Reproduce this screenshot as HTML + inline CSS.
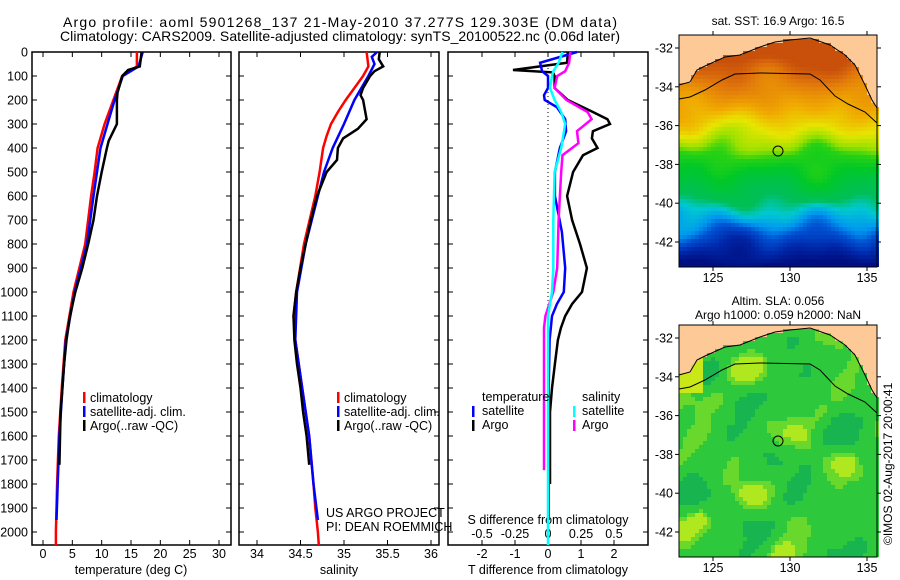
<!DOCTYPE html>
<html><head><meta charset="utf-8"><style>
html,body{margin:0;padding:0;background:#fff;}
svg{display:block;font-family:"Liberation Sans",sans-serif;}
</style></head><body>
<svg id="fig" width="900" height="580" viewBox="0 0 900 580" xmlns="http://www.w3.org/2000/svg">
<text x="63" y="27" font-size="14" textLength="554">Argo profile: aoml 5901268_137 21-May-2010 37.277S 129.303E (DM data)</text>
<text x="60" y="41" font-size="14" textLength="560">Climatology: CARS2009. Satellite-adjusted climatology: synTS_20100522.nc (0.06d later)</text>
<g id="plots"></g>
<g id="maps"></g>
<text transform="translate(892,545) rotate(-90)" font-size="12">©IMOS 02-Aug-2017 20:00:41</text>
</svg>
<script>
// ---------- data ----------
const depthTicks=[0,100,200,300,400,500,600,700,800,900,1000,1100,1200,1300,1400,1500,1600,1700,1800,1900,2000];
const tempTicks=[0,5,10,15,20,25,30];
const salTicks=[34,34.5,35,35.5,36];
const salTickLabels=["34","34.5","35","35.5","36"];
const tdiffTicks=[-2,-1,0,1,2];
const sdiffTicks=[-0.5,-0.25,0,0.25,0.5];
const sdiffTickLabels=["-0.5","-0.25","0","0.25","0.5"];
// temperature profiles [depth, T]
const tempClimDepth=[0,60,90,100,200,300,400,500,600,800,1000,1200,1400,1600,1800,2000,2054];
const tempClimVal=[16.0,16.0,14.0,13.5,12.0,10.5,9.3,8.8,8.2,7.2,5.2,3.8,3.2,2.7,2.4,2.2,2.2];
const tempSatDepth=[0,60,100,200,300,400,500,600,800,1000,1200,1400,1600,1800,1950];
const tempSatVal=[17.0,16.3,13.6,12.2,11.0,9.8,9.2,8.6,7.5,5.4,3.9,3.3,2.8,2.5,2.3];
const tempArgoDepth=[0,60,75,100,170,200,300,330,370,400,500,600,700,800,900,1000,1100,1200,1300,1400,1500,1720];
const tempArgoVal=[16.8,16.5,14.5,13.5,12.7,12.6,12.6,12.0,11.2,10.9,10.0,9.2,8.6,7.7,6.7,5.5,4.6,4.0,3.6,3.3,3.0,2.8];
// salinity profiles
const salClimDepth=[0,60,100,150,200,250,300,350,400,500,600,800,1000,1100,1200,1400,1600,1800,1900,2000,2054];
const salClimVal=[35.26,35.28,35.22,35.12,35.02,34.93,34.85,34.80,34.76,34.72,34.67,34.54,34.45,34.42,34.44,34.52,34.60,34.65,34.67,34.70,34.71];
const salSatDepth=[0,20,50,100,200,300,400,500,600,800,1000,1200,1400,1600,1800,1950];
const salSatVal=[35.38,35.32,35.35,35.28,35.12,35.00,34.87,34.77,34.70,34.56,34.46,34.44,34.52,34.60,34.65,34.70];
const salArgoDepth=[0,30,60,80,100,150,180,200,280,320,360,400,450,500,600,700,800,900,1000,1100,1200,1300,1400,1500,1600,1720];
const salArgoVal=[35.41,35.40,35.45,35.35,35.30,35.22,35.19,35.22,35.26,35.16,34.99,34.93,34.92,34.80,34.69,34.62,34.56,34.50,34.45,34.42,34.43,34.46,34.50,34.53,34.57,34.60];
// differences
const dTArgoDepth=[0,45,75,85,100,150,200,250,280,300,330,360,400,430,500,600,700,800,900,1000,1050,1100,1150,1200,1300,1400,1500,1800];
const dTArgoVal=[0.6,0.58,-1.06,0.15,0.2,0.2,0.6,1.36,1.8,1.88,1.36,1.33,1.5,1.06,0.76,0.58,0.73,0.97,1.18,1.03,0.73,0.52,0.39,0.3,0.21,0.12,0.06,0.06];
const dTSatDepth=[0,45,80,100,150,180,200,230,280,330,400,500,600,750,900,1000,1050,1100,1200,1400,1800,1950];
const dTSatVal=[0.88,-0.24,-0.18,0,0,-0.12,-0.1,0.27,0.52,0.55,0.36,0.21,0.21,0.42,0.52,0.48,0.27,0.12,0.05,0.02,0.02,0.02];
const dSSatDepth=[0,45,80,100,150,200,250,300,400,500,700,900,1000,1100,1200,1800,2054];
const dSSatVal=[0.11,0.08,0.04,0.03,0.015,0.05,0.10,0.13,0.10,0.05,0.04,0.04,0.03,0.0,0.0,0.0,0.0];
const dSArgoDepth=[0,45,80,100,150,200,250,280,330,380,430,500,700,900,1000,1100,1150,1742];
const dSArgoVal=[0.17,0.16,0.13,0.07,0.05,0.14,0.30,0.33,0.22,0.23,0.11,0.10,0.08,0.07,0.04,-0.02,-0.03,-0.03];

// ---------- helpers ----------
const NS="http://www.w3.org/2000/svg";
const plots=document.getElementById('plots');
const maps=document.getElementById('maps');
function el(tag,attrs,parent){const e=document.createElementNS(NS,tag);for(const k in attrs)e.setAttribute(k,attrs[k]);(parent||plots).appendChild(e);return e;}
const TOP=52,BOT=545;
function yD(d){return TOP+d*0.24;}
function xT(t){return 43+t*(176/30);}
function xS(s){return 257+(s-34)*87;}
function xdT(t){return 548+t*33;}
function xdS(s){return 548+s*132;}
function line(depths,vals,xf,color,name,w){
  const pts=depths.map((d,i)=>xf(vals[i]).toFixed(1)+","+yD(d).toFixed(1)).join(" ");
  const p=el('polyline',{points:pts,fill:'none',stroke:color,'stroke-width':w||2.5,'stroke-linejoin':'miter'});
  
  
}
function panel(x0,x1,name){
  const r=el('rect',{x:x0,y:TOP,width:x1-x0,height:BOT-TOP,fill:'none',stroke:'#000','stroke-width':1.5});
  
  
  depthTicks.forEach(d=>{el('line',{x1:x0,x2:x0+5,y1:yD(d),y2:yD(d),stroke:'#000'});el('line',{x1:x1,x2:x1-5,y1:yD(d),y2:yD(d),stroke:'#000'});});
}
function txt(x,y,s,name,opts){const t=el('text',Object.assign({x:x,y:y,'font-size':12.5},opts||{}));t.textContent=s;return t;}
function xticks(vals,labels,xf,x0,x1,name){
  vals.forEach((v,i)=>{const x=xf(v);el('line',{x1:x,x2:x,y1:TOP,y2:TOP+5,stroke:'#000'});el('line',{x1:x,x2:x,y1:BOT,y2:BOT-5,stroke:'#000'});
  txt(x,558,labels[i],name,{'text-anchor':'middle'});});
}
function legMark(x,y,color){el('rect',{x:x,y:y-9,width:2.5,height:11,fill:color});}

// ---------- panel 1 temperature ----------
panel(32,231,'temperature-panel');
depthTicks.forEach(d=>txt(28,yD(d)+4.5,String(d),'depth-tick-label',{'text-anchor':'end'}));
xticks(tempTicks,tempTicks.map(String),xT,32,231,'temperature-tick-label');
txt(131,574,'temperature (deg C)','temperature-axis-title',{'text-anchor':'middle'});
line(tempClimDepth,tempClimVal,xT,'#f00','temp-climatology-line');
line(tempSatDepth,tempSatVal,xT,'#00f','temp-satellite-line');
line(tempArgoDepth,tempArgoVal,xT,'#000','temp-argo-line');
[['climatology','#f00'],['satellite-adj. clim.','#00f'],['Argo(..raw -QC)','#000']].forEach((e,i)=>{legMark(83,401+i*14,e[1]);txt(90,402+i*14,e[0],'temp-legend-entry');});

// ---------- panel 2 salinity ----------
panel(239,439,'salinity-panel');
xticks(salTicks,salTickLabels,xS,239,439,'salinity-tick-label');
txt(339,574,'salinity','salinity-axis-title',{'text-anchor':'middle'});
line(salClimDepth,salClimVal,xS,'#f00','sal-climatology-line');
line(salSatDepth,salSatVal,xS,'#00f','sal-satellite-line');
line(salArgoDepth,salArgoVal,xS,'#000','sal-argo-line');
[['climatology','#f00'],['satellite-adj. clim.','#00f'],['Argo(..raw -QC)','#000']].forEach((e,i)=>{legMark(337,401+i*14,e[1]);txt(344,402+i*14,e[0],'sal-legend-entry');});
txt(326,517,'US ARGO PROJECT','project-label');
txt(326,531,'PI: DEAN ROEMMICH','pi-label');

// ---------- panel 3 differences ----------
panel(448,648,'difference-panel');
el('line',{x1:548,x2:548,y1:TOP,y2:BOT,stroke:'#000','stroke-dasharray':'1,3'});
xticks(tdiffTicks,tdiffTicks.map(String),xdT,448,648,'tdiff-tick-label');
sdiffTicks.forEach((v,i)=>txt(xdS(v),538,sdiffTickLabels[i],'sdiff-tick-label',{'text-anchor':'middle'}));
txt(548,524,'S difference from climatology','sdiff-axis-title',{'text-anchor':'middle'});
txt(548,574,'T difference from climatology','tdiff-axis-title',{'text-anchor':'middle'});
line(dTArgoDepth,dTArgoVal,xdT,'#000','tdiff-argo-line');
line(dTSatDepth,dTSatVal,xdT,'#00f','tdiff-satellite-line');
line(dSArgoDepth,dSArgoVal,xdS,'#f0f','sdiff-argo-line');
line(dSSatDepth,dSSatVal,xdS,'#0ff','sdiff-satellite-line');
txt(482,401,'temperature','diff-legend-header');
txt(582,401,'salinity','diff-legend-header');
legMark(472,415,'#00f');txt(482,415,'satellite','diff-legend-entry');
legMark(472,429,'#000');txt(482,429,'Argo','diff-legend-entry');
legMark(573,415,'#0ff');txt(582,415,'satellite','diff-legend-entry');
legMark(573,429,'#f0f');txt(582,429,'Argo','diff-legend-entry');

// ---------- maps ----------
const mapLatTicks=[-32,-34,-36,-38,-40,-42];
const mapLonTicks=[125,130,135];
const MX0=679,MX1=877;
function mlon(l){return 713+(l-125)*15.4;}
const coast=[[679,85],[690,82],[697,70],[705,66],[725,57],[740,55],[760,47],[775,42],[790,40],[810,38],[830,45],[845,55],[855,65],[865,85],[872,100],[877,108]];
const contour=[[679,99],[690,97],[705,90],[722,80],[735,74],[760,73],[810,74],[820,80],[835,96],[848,104],[865,112],[877,123]];
function n2(x,y,s){return Math.sin(x*0.07+s)*Math.cos(y*0.06+s*1.7)+0.6*Math.sin(x*0.045+s*2.3)*Math.sin(y*0.11+s*0.7)+0.4*Math.cos(x*0.13+s)*Math.cos(y*0.09+s*3.1);}
function coastY(x,off){for(let i=0;i<coast.length-1;i++){if(x>=coast[i][0]&&x<=coast[i+1][0]){const t=(x-coast[i][0])/(coast[i+1][0]-coast[i][0]);return coast[i][1]+t*(coast[i+1][1]-coast[i][1])+off;}}return coast[coast.length-1][1]+off;}
const sstStops=[[0,[0,16,130]],[0.08,[0,40,170]],[0.15,[0,80,210]],[0.2,[0,150,240]],[0.26,[0,200,210]],[0.31,[0,190,90]],[0.45,[0,200,40]],[0.53,[40,210,20]],[0.58,[150,225,0]],[0.66,[230,230,0]],[0.76,[240,170,0]],[0.9,[225,120,10]],[1,[200,80,10]]];
function cmap(v){v=Math.max(0,Math.min(1,v));for(let i=0;i<sstStops.length-1;i++){if(v<=sstStops[i+1][0]){const a=sstStops[i],b=sstStops[i+1],t=(v-a[0])/(b[0]-a[0]);return 'rgb('+a[1].map((c,k)=>Math.round(c+t*(b[1][k]-c))).join(',')+')';}}return 'rgb(200,80,10)';}
function drawMap(off,kind,title1,title2){
  const Y0=35+off,Y1=267+off;
  const g=el('g',{},maps);
  el('rect',{x:MX0,y:Y0,width:MX1-MX0,height:Y1-Y0,fill:'#fdc996'},g);
  const c=4;
  for(let x=MX0;x<MX1;x+=c){const cy=coastY(x+c/2,off);for(let y=Y0;y<Y1;y+=c){if(y+c/2<cy)continue;let col;
    const ly=y-off;
    if(kind==='sst'){const lat=-32-(ly-48)/19.4;let v=1-((-lat-32.5)/10.5)+0.04*n2(x,ly,1);col=cmap(v);}
    else{const v=n2(x*0.9,ly*0.9,5)+0.4*n2(x*1.6,ly*1.4,2);col=v>1.0?'#b0e820':(v>0.5?'#68d82c':(v<-0.7?'#18b450':'#2ec83c'));if(ly<100&&x<700)col='#c8e818';}
    el('rect',{x:x,y:y,width:c,height:c,fill:col},g);}}
  el('polyline',{points:coast.map(p=>p[0]+','+(p[1]+off)).join(' '),fill:'none',stroke:'#000','stroke-width':1},g);
  el('polyline',{points:contour.map(p=>p[0]+','+(p[1]+off)).join(' '),fill:'none',stroke:'#000','stroke-width':1},g);
  const ci=el('circle',{cx:778,cy:151+off,r:5,fill:'none',stroke:'#000','stroke-width':1},g);
  el('rect',{x:MX0,y:Y0,width:MX1-MX0,height:Y1-Y0,fill:'none',stroke:'#000','stroke-width':1},g);
  mapLatTicks.forEach(l=>{const y=48+off+(-32-l)*19.4;el('line',{x1:MX0-4,x2:MX0,y1:y,y2:y,stroke:'#000'},g);el('line',{x1:MX1,x2:MX1+4,y1:y,y2:y,stroke:'#000'},g);
    const t=el('text',{x:MX0-6,y:y+4.5,'font-size':12.5,'text-anchor':'end'},g);t.textContent=String(l);});
  mapLonTicks.forEach(l=>{const x=mlon(l);el('line',{x1:x,x2:x,y1:Y0-4,y2:Y0,stroke:'#000'},g);el('line',{x1:x,x2:x,y1:Y1,y2:Y1+4,stroke:'#000'},g);
    const t=el('text',{x:x,y:Y1+15,'font-size':12.5,'text-anchor':'middle'},g);t.textContent=String(l);});
  const t1=el('text',{x:778,y:title2?Y0-20:Y0-10,'font-size':12,'text-anchor':'middle'},g);t1.textContent=title1;
  if(title2){const t2=el('text',{x:778,y:Y0-6,'font-size':12,'text-anchor':'middle'},g);t2.textContent=title2;}
}
drawMap(0,'sst','sat. SST: 16.9 Argo: 16.5');
drawMap(290,'sla','Altim. SLA: 0.056','Argo h1000: 0.059 h2000: NaN');
</script>
</body></html>
